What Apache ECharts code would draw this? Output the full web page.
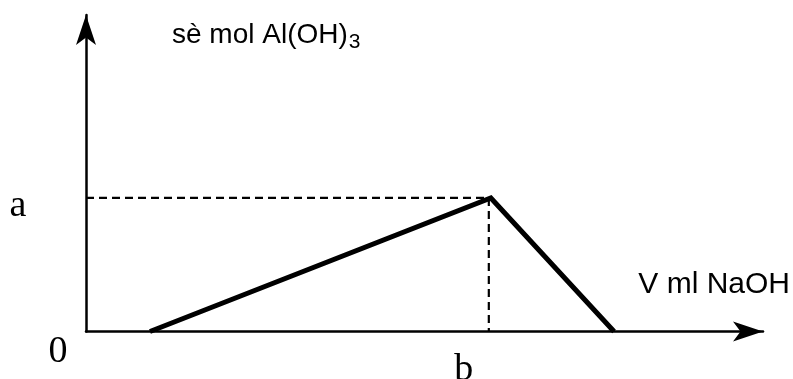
<!DOCTYPE html>
<html>
<head>
<meta charset="utf-8">
<script src="https://cdn.jsdelivr.net/npm/echarts@6/dist/echarts.min.js"></script>
<style>
  html, body { margin: 0; padding: 0; background: #fff; }
  #chart { width: 793px; height: 379px; }
</style>
</head>
<body>
<div id="chart"></div>
<script>
// curve of Al(OH)3 vs added NaOH (schematic units)
const xValues = [9.45, 59.8, 78.0]
const yValues = [0, 42.2, 0]
// dashed guides to the peak
const aLevel = 42.2
const bLevel = 59.5
// labels: origin, a on y, b on x
const tickLabels = ['0', 'a', 'b']
const tickPoints = [[0, 0], [0, aLevel], [bLevel, 0]]
const tickOffsets = [[-28, 21], [-68, 8], [-25, 39]]

const serif = 'Liberation Serif, Times New Roman, serif'
const sans = 'Liberation Sans, Arial, sans-serif'

const chart = echarts.init(document.getElementById('chart'))

const axisBase = {
  type: 'value',
  min: 0,
  max: 100,
  splitLine: { show: false },
  axisTick: { show: false },
  axisLabel: { show: false },
  axisLine: {
    show: true,
    symbol: ['none', 'arrow'],
    symbolSize: [15, 30],
    lineStyle: { color: '#000', width: 2.5 }
  }
}

chart.setOption({
  animation: false,
  grid: { left: 86, right: 30, top: 15, bottom: 47.5 },
  xAxis: Object.assign({}, axisBase, {
    name: 'V ml NaOH',
    nameLocation: 'end',
    nameGap: 27,
    nameTextStyle: {
      fontFamily: sans, fontSize: 30, color: '#000',
      align: 'right', verticalAlign: 'bottom', padding: [0, 0, 32, 0]
    }
  }),
  yAxis: Object.assign({}, axisBase, {
    name: '{m|sè mol Al(OH)}{sub|3}',
    nameLocation: 'end',
    nameGap: -6,
    nameTextStyle: {
      color: '#000',
      align: 'left', verticalAlign: 'top', padding: [0, 0, 0, 86],
      rich: {
        m: { fontFamily: sans, fontSize: 28, lineHeight: 32, color: '#000', verticalAlign: 'top' },
        sub: { fontFamily: sans, fontSize: 21, lineHeight: 21, color: '#000', verticalAlign: 'bottom', padding: [26, 0, 0, 1] }
      }
    }
  }),
  series: [
    {
      type: 'line',
      data: [[0, aLevel], [bLevel, aLevel], [bLevel, 0]],
      showSymbol: false,
      symbol: 'none',
      lineStyle: { color: '#000', width: 2.2, type: [8, 5] },
      z: 2
    },
    {
      type: 'line',
      data: xValues.map((x, i) => [x, yValues[i]]),
      showSymbol: false,
      symbol: 'none',
      lineStyle: { color: '#000', width: 5, join: 'miter' },
      z: 3
    },
    {
      type: 'scatter',
      symbolSize: 0,
      itemStyle: { opacity: 1 },
      data: tickPoints.map((p, i) => ({
        value: p,
        label: { offset: tickOffsets[i] }
      })),
      label: {
        show: true,
        position: 'inside',
        fontFamily: serif,
        fontSize: 38,
        color: '#000',
        opacity: 1,
        textBorderWidth: 0,
        formatter: p => tickLabels[p.dataIndex]
      },
      z: 4
    }
  ]
})
</script>
</body>
</html>
